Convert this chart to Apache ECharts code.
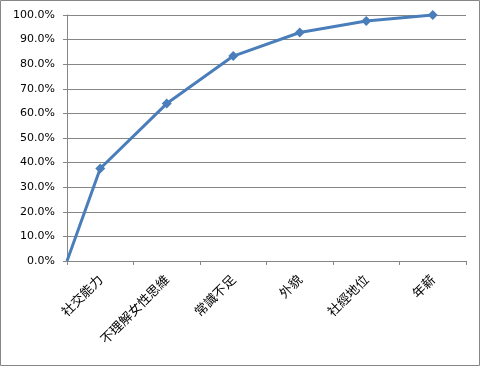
<!DOCTYPE html>
<html><head><meta charset="utf-8">
<script src="https://cdn.jsdelivr.net/npm/echarts@6/dist/echarts.min.js"></script>
<style>html,body{margin:0;padding:0;background:#fff}#c{width:481px;height:367px}</style>
</head><body><div id="c"></div>
<script>
var categories = ['社交能力','不理解女性思維','常識不足','外貌','社經地位','年薪'];
var cumulative = [0, 37.6, 64.0, 83.3, 92.9, 97.6, 100.0];
var yTicks = {min: 0, max: 100, interval: 10};

var pts = cumulative.map(function(v, i){
  return i === 0 ? {value:[0, v], symbol:'none'} : {value:[i - 0.5, v]};
});
var chart = echarts.init(document.getElementById('c'), null, {renderer:'canvas'});
var grey = '#868686';
chart.setOption({
  animation: false,
  graphic: [{type:'rect', shape:{x:0.5,y:0.5,width:479,height:365}, style:{fill:null, stroke:grey, lineWidth:1}, silent:true}],
  grid: {left: 67, right: 15, top: 15, bottom: 106},
  xAxis: [{
    type: 'category', data: categories, boundaryGap: true,
    axisLine: {lineStyle:{color: grey}},
    axisTick: {show:true, alignWithLabel:false, length:4, lineStyle:{color: grey}},
    axisLabel: {interval:0, rotate:45, color:'#000', fontSize:13, margin:16, fontFamily:'"Noto Sans CJK TC", sans-serif'},
    splitLine: {show:false}
  },{
    type: 'value', min: 0, max: categories.length, show: false
  }],
  yAxis: {
    type: 'value', min: yTicks.min, max: yTicks.max, interval: yTicks.interval,
    axisLine: {show:true, lineStyle:{color: grey}},
    axisTick: {show:true, length:4, lineStyle:{color: grey}},
    axisLabel: {color:'#000', fontSize:11, margin:12, fontFamily:'"DejaVu Sans", sans-serif', formatter: function(v){ return v.toFixed(1) + '%'; }},
    splitLine: {show:true, lineStyle:{color: grey, width:1}}
  },
  series: [{
    type: 'line', xAxisIndex: 1, data: pts,
    symbol: 'diamond', symbolSize: 10, showSymbol: true,
    lineStyle: {color:'#4a7ebb', width:3},
    itemStyle: {color:'#4a7ebb'}
  }]
});
</script></body></html>
